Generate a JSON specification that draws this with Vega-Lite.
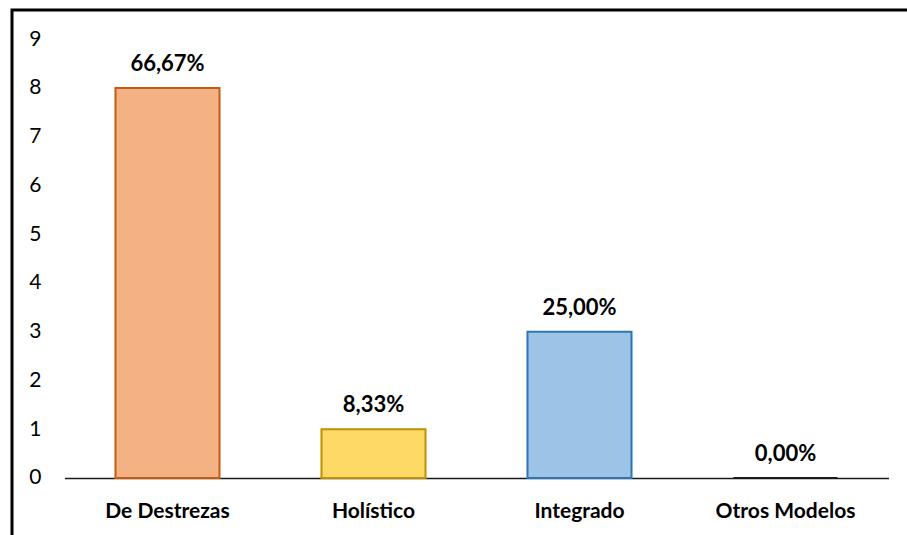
{
  "$schema": "https://vega.github.io/schema/vega-lite/v6.json",
  "width": 897,
  "height": 535,
  "autosize": {"type": "none"},
  "padding": {"left": 12, "top": 10, "right": 0, "bottom": 0},
  "background": "white",
  "config": {
    "view": {"stroke": "black", "strokeWidth": 3},
    "font": "Lato"
  },
  "data": {
    "values": [
      {"modelo": "De Destrezas", "n": 8, "pct": "66,67%"},
      {"modelo": "Holístico", "n": 1, "pct": "8,33%"},
      {"modelo": "Integrado", "n": 3, "pct": "25,00%"},
      {"modelo": "Otros Modelos", "n": 0, "pct": "0,00%"}
    ]
  },
  "encoding": {
    "x": {
      "field": "modelo",
      "type": "nominal",
      "sort": null,
      "scale": {"range": [52.5, 876.5], "paddingInner": 0.495, "paddingOuter": 0.2475},
      "axis": {
        "title": null,
        "orient": "bottom",
        "offset": -67,
        "labelAngle": 0,
        "ticks": false,
        "domainColor": "#1a1a1a",
        "domainWidth": 1.5,
        "labelPadding": 22,
        "labelFontSize": 21,
        "labelFontWeight": "bold",
        "labelColor": "#000000"
      }
    },
    "y": {
      "field": "n",
      "type": "quantitative",
      "scale": {"domain": [-1.3744, 9.6], "nice": false, "zero": false},
      "axis": {
        "title": null,
        "orient": "left",
        "offset": -29,
        "values": [0, 1, 2, 3, 4, 5, 6, 7, 8, 9],
        "grid": false,
        "domain": false,
        "ticks": false,
        "labelPadding": 0,
        "labelFontSize": 21,
        "labelColor": "#000000"
      }
    }
  },
  "layer": [
    {
      "mark": {"type": "bar", "strokeWidth": 2},
      "encoding": {
        "y2": {"datum": 0},
        "fill": {
          "field": "modelo",
          "type": "nominal",
          "legend": null,
          "scale": {
            "domain": ["De Destrezas", "Holístico", "Integrado", "Otros Modelos"],
            "range": ["#F4B183", "#FFD966", "#9DC3E6", "#A5A5A5"]
          }
        },
        "stroke": {
          "field": "modelo",
          "type": "nominal",
          "legend": null,
          "scale": {
            "domain": ["De Destrezas", "Holístico", "Integrado", "Otros Modelos"],
            "range": ["#C55A11", "#BF9000", "#2E75B6", "#1a1a1a"]
          }
        }
      }
    },
    {
      "mark": {"type": "text", "baseline": "bottom", "dy": -12, "fontSize": 22, "fontWeight": "bold", "color": "#000000"},
      "encoding": {
        "text": {"field": "pct"}
      }
    }
  ]
}
